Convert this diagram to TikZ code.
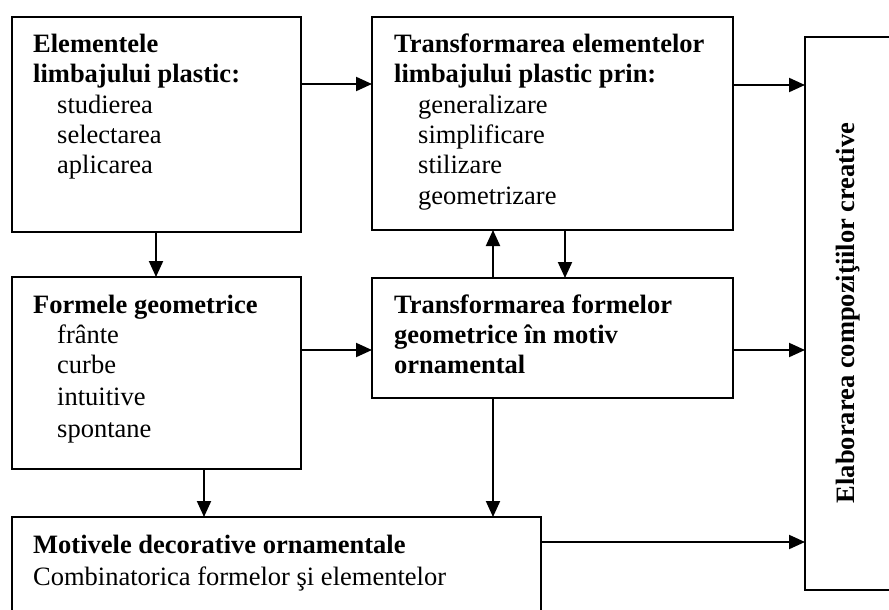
\documentclass[tikz,border=0pt]{standalone}
\usepackage{fontspec}
\setmainfont{Liberation Serif}
\usetikzlibrary{arrows.meta}
\begin{document}
\begin{tikzpicture}[x=1pt,y=-1pt,
  box/.style={draw, line width=2pt, inner sep=0pt, outer sep=0pt, anchor=north west},
  txt/.style={inner sep=0pt, anchor=base west, font=\fontsize{26.5}{30}\selectfont},
  arr/.style={line width=2pt, -{Triangle[length=16pt,width=14pt]}}]
\useasboundingbox (0,0) rectangle (889,610);
\clip (0,0) rectangle (889,610);
% boxes
\node[box, minimum width=289pt, minimum height=215pt] (A) at (12,17) {};
\node[box, minimum width=361pt, minimum height=213pt] (B) at (372,17) {};
\node[box, minimum width=289pt, minimum height=192pt] (C) at (12,277) {};
\node[box, minimum width=361pt, minimum height=120pt] (D) at (372,278) {};
\node[box, minimum width=95pt, minimum height=553pt] (E) at (805,37) {};
\node[box, minimum width=529pt, minimum height=110pt] (F) at (12,517) {};
% texts
\node[txt] (tA) at (33,53) {\vtop{\hbox{\bfseries Elementele}\hbox{\bfseries limbajului plastic:}\hbox{\hskip24pt studierea}\hbox{\hskip24pt selectarea}\hbox{\hskip24pt aplicarea}}};
\node[txt] (tB) at (394,53) {\vtop{\hbox{\bfseries Transformarea elementelor}\hbox{\bfseries limbajului plastic prin:}\hbox{\hskip24pt generalizare}\hbox{\hskip24pt simplificare}\hbox{\hskip24pt stilizare}\kern2pt\hbox{\hskip24pt geometrizare}}};
\node[txt] (tC) at (33,313) {\vtop{\hbox{\bfseries Formele geometrice}\hbox{\hskip24pt frânte}\hbox{\hskip24pt curbe}\kern2pt\hbox{\hskip24pt intuitive}\kern2pt\hbox{\hskip24pt spontane}}};
\node[txt] (tD) at (394,313) {\vtop{\hbox{\bfseries Transformarea formelor}\hbox{\bfseries geometrice în motiv}\hbox{\bfseries ornamental}}};
\node[txt] (tF) at (33,553) {\vtop{\hbox{\bfseries Motivele decorative ornamentale}\kern2pt\hbox{Combinatorica formelor şi elementelor}}};
\node[inner sep=0pt, rotate=90, font=\fontsize{26.5}{30}\selectfont\bfseries] (tE) at (848,313) {Elaborarea compoziţiilor creative};
% connectors
\draw[arr] ([yshift=-67pt]A.north east) coordinate (p1) -- (p1 -| B.west);
\draw[arr] ([yshift=-68pt]B.north east) coordinate (p2) -- (p2 -| E.west);
\draw[arr] ([xshift=144pt]A.south west) coordinate (p3) -- (p3 |- C.north);
\draw[arr] ([xshift=121pt]D.north west) coordinate (p4) -- (p4 |- B.south);
\draw[arr] ([xshift=193pt]B.south west) coordinate (p5) -- (p5 |- D.north);
\draw[arr] ([yshift=-73pt]C.north east) coordinate (p6) -- (p6 -| D.west);
\draw[arr] ([yshift=-72pt]D.north east) coordinate (p7) -- (p7 -| E.west);
\draw[arr] ([xshift=192pt]C.south west) coordinate (p8) -- (p8 |- F.north);
\draw[arr] ([xshift=121pt]D.south west) coordinate (p9) -- (p9 |- F.north);
\draw[arr] ([yshift=-25pt]F.north east) coordinate (p10) -- (p10 -| E.west);
\end{tikzpicture}
\end{document}
